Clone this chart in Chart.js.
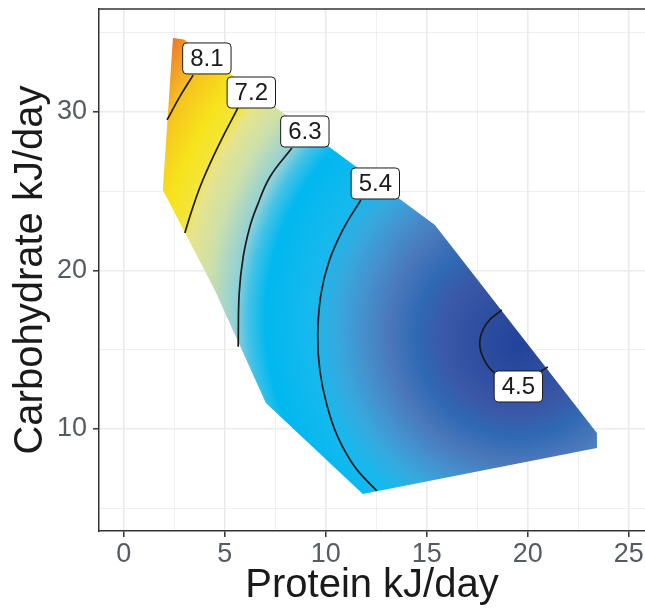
<!DOCTYPE html>
<html>
<head>
<meta charset="utf-8">
<script src="https://cdn.jsdelivr.net/npm/chart.js@4.4.1/dist/chart.umd.min.js"></script>
<style>
  html, body { margin: 0; padding: 0; background: #fff; }
  #wrap { width: 645px; height: 610px; }
</style>
</head>
<body>
<div id="wrap"><canvas id="surface"></canvas></div>
<script>
// Fitted response surface over protein and carbohydrate intake

// Outline of the sampled diet space
const hullProtein = [2.43, 2.97, 15.40, 23.42, 23.42, 11.83, 7.03, 4.50, 1.93, 2.43];
const hullCarb    = [34.67, 34.57, 22.87, 9.75, 8.80, 5.90, 11.64, 18.77, 25.08, 34.67];

// Lowest point of the surface
const optimumProtein = 19.46;
const optimumCarb = 15.2;

// Surface value against distance from the optimum (protein kJ/day)
const surfaceLevel = [4.35, 4.5, 5.4, 6.3, 7.2, 8.1, 8.8];
const surfaceReach = [0, 1.84, 9.85, 13.76, 16.93, 19.6, 22.0];

// Contour lines, one row per level
const contourLevels = [8.1, 7.2, 6.3, 5.4, 4.5];
const contourProtein = [
  [2.14, 2.77, 3.43],
  [3.02, 3.42, 3.91, 4.65, 5.64],
  [5.66, 5.71, 5.91, 6.24, 6.58, 7.23, 8.32],
  [12.52, 11.44, 10.59, 10.05, 9.70, 9.60, 9.75, 10.15, 10.84, 11.73],
  [18.71, 17.97, 17.62, 17.87, 18.37, 19.21, 20.20, 20.99]
];
const contourCarb = [
  [29.50, 30.97, 32.33],
  [22.37, 24.01, 25.71, 27.79, 30.25],
  [15.19, 18.56, 20.87, 22.76, 24.01, 25.90, 27.73],
  [6.09, 7.60, 9.50, 11.51, 13.72, 15.93, 18.45, 20.54, 22.56, 24.45],
  [17.51, 16.69, 15.49, 14.29, 13.53, 13.15, 13.34, 13.91]
];

// Where each contour label sits
const labelProtein = [4.11, 6.31, 8.96, 12.45, 19.53];
const labelCarb    = [33.38, 31.23, 28.77, 25.49, 12.68];

// colour ramp by surface value
const fillRamp = [
  [4.35, '#22439b'], [4.5, '#2d4da0'], [4.7, '#3a58a7'], [4.85, '#2f69b4'],
  [5.0, '#4a77ba'], [5.15, '#4590cd'], [5.3, '#35aadf'], [5.5, '#16b9ee'],
  [6.0, '#00b8ef'], [6.2, '#45c3e6'], [6.35, '#8fd0d8'], [6.75, '#cde0aa'],
  [7.1, '#e8e48a'], [7.25, '#f4e537'], [7.55, '#f7e31c'], [8.1, '#f7c31f'],
  [8.4, '#f29a27'], [8.75, '#ec6a2b']
];
const RING_DRIFT = 0.1;   // rings sit a little higher as they widen
const FONT = '"Liberation Sans", Arial, Helvetica, sans-serif';
const TICK_GREY = '#555b60';
const GRID_GREY = '#ebebee';
const FRAME = '#333333';

function reachForLevel(v) {
  if (v <= surfaceLevel[0]) return surfaceReach[0];
  for (let i = 0; i < surfaceLevel.length - 1; i++) {
    const a = surfaceLevel[i], b = surfaceLevel[i + 1];
    if (v <= b) return surfaceReach[i] + (v - a) / (b - a) * (surfaceReach[i + 1] - surfaceReach[i]);
  }
  return surfaceReach[surfaceReach.length - 1];
}

function surfaceFill(context) {
  const chart = context.chart;
  if (!chart.chartArea) return 'rgba(0,0,0,0)';
  const xs = chart.scales.x, ys = chart.scales.y;
  const cx = xs.getPixelForValue(optimumProtein);
  const cy = ys.getPixelForValue(optimumCarb);
  const pxPerUnit = xs.getPixelForValue(1) - xs.getPixelForValue(0);
  const maxReach = surfaceReach[surfaceReach.length - 1];
  const R = maxReach * pxPerUnit;
  const g = chart.ctx.createRadialGradient(cx, cy, 0, cx, cy - RING_DRIFT * R, R);
  fillRamp.forEach(([v, col]) => {
    g.addColorStop(Math.min(1, reachForLevel(v) / maxReach), col);
  });
  return g;
}

function isMajor(v, step) {
  return Math.abs(v / step - Math.round(v / step)) < 1e-6;
}

const toPoints = (xs, ys) => xs.map((x, i) => ({x: x, y: ys[i]}));

const datasets = contourLevels.map((lvl, i) => ({
  label: String(lvl),
  data: toPoints(contourProtein[i], contourCarb[i]),
  showLine: true,
  borderColor: '#1a1a1a',
  borderWidth: 1.7,
  pointRadius: 0,
  tension: 0.4,
  fill: false,
  order: 1
}));

datasets.push({
  label: 'surface',
  data: toPoints(hullProtein, hullCarb),
  showLine: true,
  borderWidth: 0,
  borderColor: 'rgba(0,0,0,0)',
  pointRadius: 0,
  tension: 0,
  fill: 'shape',
  backgroundColor: surfaceFill,
  order: 2
});

// top edge of the panel
const panelTop = {
  id: 'panelTop',
  afterDraw(chart) {
    const {ctx, chartArea: a} = chart;
    ctx.save();
    ctx.strokeStyle = FRAME;
    ctx.lineWidth = 1.5;
    ctx.beginPath();
    ctx.moveTo(a.left, a.top);
    ctx.lineTo(a.right, a.top);
    ctx.stroke();
    ctx.restore();
  }
};

// boxed value labels on the contours
const contourLabels = {
  id: 'contourLabels',
  afterDatasetsDraw(chart) {
    const {ctx, scales: {x, y}} = chart;
    ctx.save();
    ctx.font = '24px ' + FONT;
    ctx.textAlign = 'center';
    ctx.textBaseline = 'middle';
    contourLevels.forEach((lvl, i) => {
      const text = lvl.toFixed(1);
      const px = x.getPixelForValue(labelProtein[i]);
      const py = y.getPixelForValue(labelCarb[i]);
      const w = ctx.measureText(text).width + 15;
      const h = 31;
      ctx.beginPath();
      ctx.roundRect(px - w / 2, py - h / 2, w, h, 4);
      ctx.fillStyle = '#ffffff';
      ctx.fill();
      ctx.lineWidth = 1;
      ctx.strokeStyle = '#1a1a1a';
      ctx.stroke();
      ctx.fillStyle = '#1a1a1a';
      ctx.fillText(text, px, py + 1);
    });
    ctx.restore();
  }
};

new Chart(document.getElementById('surface'), {
  type: 'scatter',
  data: {datasets: datasets},
  options: {
    responsive: true,
    maintainAspectRatio: false,
    animation: false,
    layout: {padding: {top: 9, left: 0, right: 0, bottom: 0}},
    plugins: {legend: {display: false}, tooltip: {enabled: false}},
    scales: {
      x: {
        type: 'linear',
        min: -1.23,
        max: 25.8,
        afterFit: s => { s.height = 79; s.paddingLeft = 0; s.paddingRight = 0; },
        ticks: {
          stepSize: 2.5,
          includeBounds: false,
          autoSkip: false,
          maxRotation: 0,
          padding: 1,
          color: TICK_GREY,
          font: {family: FONT, size: 27},
          callback: v => isMajor(v, 5) ? String(v) : ''
        },
        grid: {
          color: GRID_GREY,
          lineWidth: c => (c.tick && isMajor(c.tick.value, 5)) ? 1.6 : 0.8,
          tickLength: 6,
          tickWidth: 1.5,
          tickColor: c => (c.tick && isMajor(c.tick.value, 5)) ? FRAME : 'rgba(0,0,0,0)'
        },
        border: {display: true, color: FRAME, width: 1.5},
        title: {
          display: true,
          text: 'Protein kJ/day',
          color: '#1a1a1a',
          font: {family: FONT, size: 40},
          padding: {top: 0, bottom: 0}
        }
      },
      y: {
        type: 'linear',
        min: 3.56,
        max: 36.5,
        afterFit: s => { s.width = 99; s.paddingTop = 0; s.paddingBottom = 0; },
        ticks: {
          stepSize: 5,
          includeBounds: false,
          autoSkip: false,
          padding: 6,
          color: TICK_GREY,
          font: {family: FONT, size: 27},
          callback: v => isMajor(v, 10) ? String(v) : ''
        },
        grid: {
          color: GRID_GREY,
          lineWidth: c => (c.tick && isMajor(c.tick.value, 10)) ? 1.6 : 0.8,
          tickLength: 6,
          tickWidth: 1.5,
          tickColor: c => (c.tick && isMajor(c.tick.value, 10)) ? FRAME : 'rgba(0,0,0,0)'
        },
        border: {display: true, color: FRAME, width: 1.5},
        title: {
          display: true,
          text: 'Carbohydrate kJ/day',
          color: '#1a1a1a',
          font: {family: FONT, size: 40},
          padding: {top: 7, bottom: 0}
        }
      }
    }
  },
  plugins: [contourLabels, panelTop]
});
</script>
</body>
</html>
